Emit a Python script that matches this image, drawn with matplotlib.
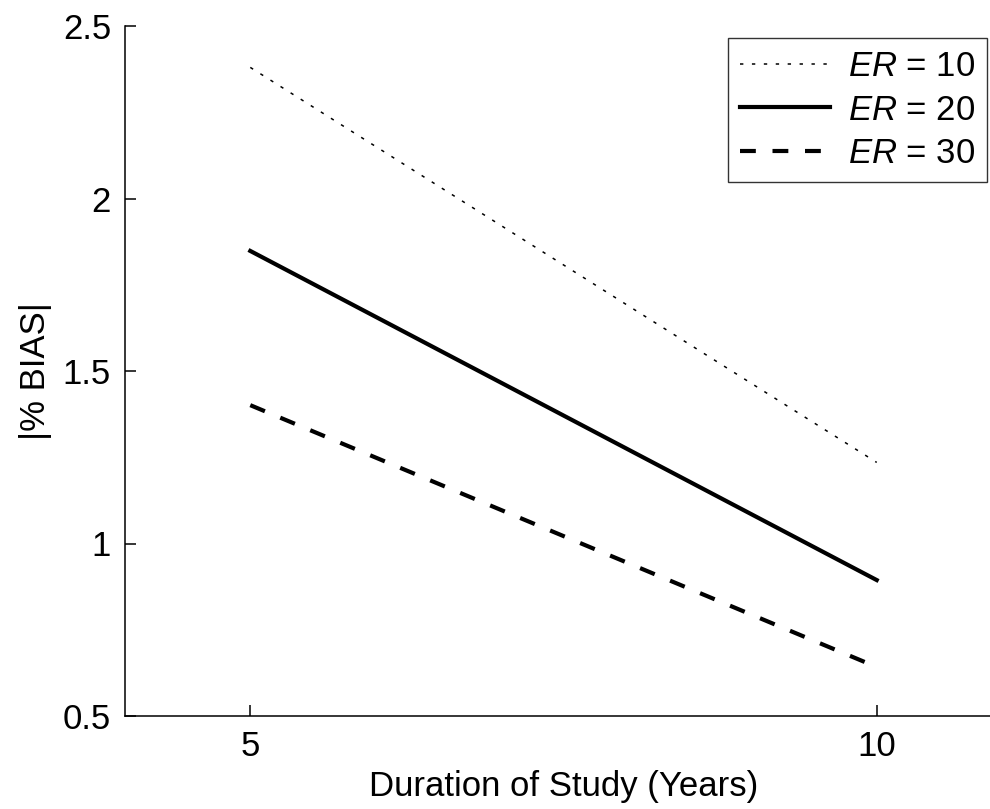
import matplotlib
matplotlib.use('Agg')
import matplotlib.pyplot as plt

# Dados
anos = [5, 10]
bias_er10 = [2.38, 1.235]
bias_er20 = [1.848, 0.894]
bias_er30 = [1.401, 0.642]

plt.rcParams['font.family'] = ['Liberation Sans', 'DejaVu Sans']
plt.rcParams['mathtext.fontset'] = 'custom'
plt.rcParams['mathtext.it'] = 'Liberation Sans:italic'
plt.rcParams['mathtext.rm'] = 'Liberation Sans'

fig = plt.figure(figsize=(9.9, 8.09), dpi=100)
ax = fig.add_axes([125 / 990, 93 / 809, 877 / 990, 690 / 809])

ax.plot(anos, bias_er10, color='black', linewidth=1.1, dashes=(2.2, 5.6), label='$ER$ = 10')
ax.plot(anos, bias_er20, color='black', linewidth=3, label='$ER$ = 20')
ax.plot(anos, bias_er30, color='black', linewidth=3, dashes=(3.8, 4.0), label='$ER$ = 30')

ax.set_xlim(4, 11)
ax.set_ylim(0.5, 2.5)
ax.set_xticks([5, 10])
ax.set_yticks([0.5, 1, 1.5, 2, 2.5])
ax.set_yticklabels(['0.5', '1', '1.5', '2', '2.5'])
ax.spines['top'].set_visible(False)
ax.spines['right'].set_visible(False)
ax.spines['left'].set_linewidth(1.1)
ax.spines['bottom'].set_linewidth(1.1)
ax.tick_params(direction='in', length=8, width=1.1, labelsize=25, pad=10)

ax.set_xlabel('Duration of Study (Years)', fontsize=25, labelpad=5)
ax.set_ylabel('|% BIAS|', fontsize=25, labelpad=8)

leg = ax.legend(loc='upper right', bbox_to_anchor=(987 / 990, 771 / 809), bbox_transform=fig.transFigure,
                fontsize=25, frameon=True, fancybox=False, edgecolor='black',
                handlelength=2.6, handletextpad=0.5, borderpad=0.35, labelspacing=0.3,
                borderaxespad=0)
leg.get_frame().set_linewidth(1)

fig.savefig('out.png', dpi=100)
